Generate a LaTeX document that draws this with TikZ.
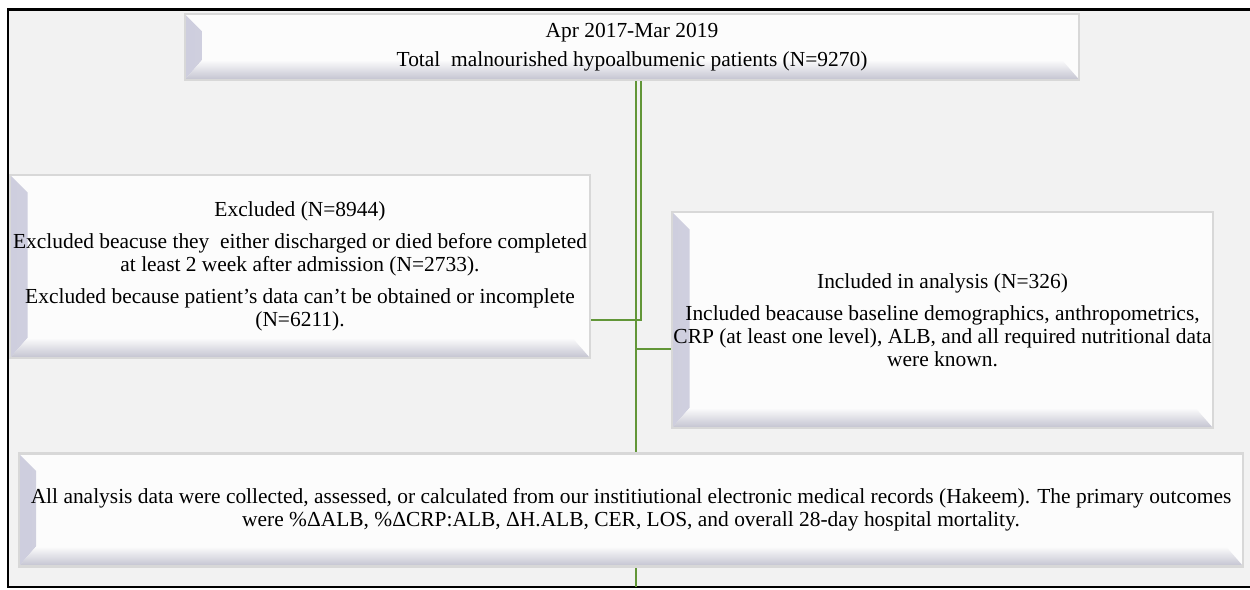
\documentclass[tikz,border=0pt]{standalone}
\usepackage{fontspec}
\setmainfont{Liberation Serif}
\usetikzlibrary{positioning}
\definecolor{bggray}{RGB}{242,242,242}
\definecolor{bevel}{RGB}{206,206,222}
\definecolor{edgegray}{RGB}{216,216,216}
\definecolor{facewhite}{RGB}{252,252,252}
\definecolor{linkgreen}{RGB}{98,150,56}
\pgfdeclarelayer{back}
\pgfsetlayers{back,main}
\tikzstyle{flowbox} = [rectangle, draw=edgegray, line width=1.2pt, fill=facewhite, align=center, inner sep=0pt, font=\fontsize{12.2}{13.2}\selectfont,
  path picture={
    \shade[left color=bevel, right color=facewhite] (path picture bounding box.south west) -- (path picture bounding box.north west) -- ([shift={(0.35cm,-0.35cm)}]path picture bounding box.north west) -- ([shift={(0.35cm,0.4cm)}]path picture bounding box.south west) -- cycle;
    \shade[bottom color=bevel!85!gray, top color=facewhite] (path picture bounding box.south west) -- ([shift={(0.35cm,0.4cm)}]path picture bounding box.south west) -- ([shift={(-0.35cm,0.4cm)}]path picture bounding box.south east) -- (path picture bounding box.south east) -- cycle;
  }]
\tikzstyle{link} = [line width=1.6pt, draw=linkgreen]

\begin{document}
\begin{tikzpicture}[x=0.02cm, y=-0.02cm]
\useasboundingbox (0,0) rectangle (1250,590);

\node (period) [flowbox, minimum width=17.9cm, minimum height=1.32cm] at (632,47) {Apr 2017-Mar 2019\\[3pt] Total\ \ malnourished hypoalbumenic patients (N=9270)};
\node (excl) [flowbox, minimum width=11.6cm, minimum height=3.66cm] at (300,266.5) {Excluded (N=8944)\\[5pt] Excluded beacuse they\ \ either discharged or died before completed\\ at least 2 week after admission (N=2733).\\[5pt] Excluded because patient’s data can’t be obtained or incomplete\\ (N=6211).};
\node (incl) [flowbox, minimum width=10.82cm, minimum height=4.32cm] at (942.5,320) {Included in analysis (N=326)\\[5pt] Included beacause baseline demographics, anthropometrics,\\ CRP (at least one level), ALB, and all required nutritional data\\ were known.};
\node (outcome) [flowbox, minimum width=24.5cm, minimum height=2.26cm] at (631,510) {All analysis data were collected, assessed, or calculated from our institiutional electronic medical records (Hakeem). The primary outcomes\\ were \%ΔALB, \%ΔCRP:ALB, ΔH.ALB, CER, LOS, and overall 28-day hospital mortality.};

\coordinate (bendL) at (641,320);
\coordinate (bendR) at (636,349);
\coordinate (floor) at (636,587);

%%% drawing %%%%%%%%%%%%%%%%%%%%%%%
\begin{pgfonlayer}{back}
\fill [bggray] (8,10) rectangle (1250,587);
\draw [line width=1.7pt] (1250,10) -- (8,10) -- (8,587) -- (1250,587);
\draw [link] (period.south -| bendL) -- (bendL) -- (bendL -| excl.east);
\draw [link] (period.south -| bendR) -- (floor);
\draw [link] (bendR) -- (bendR -| incl.west);
\end{pgfonlayer}
\end{tikzpicture}
\end{document}
